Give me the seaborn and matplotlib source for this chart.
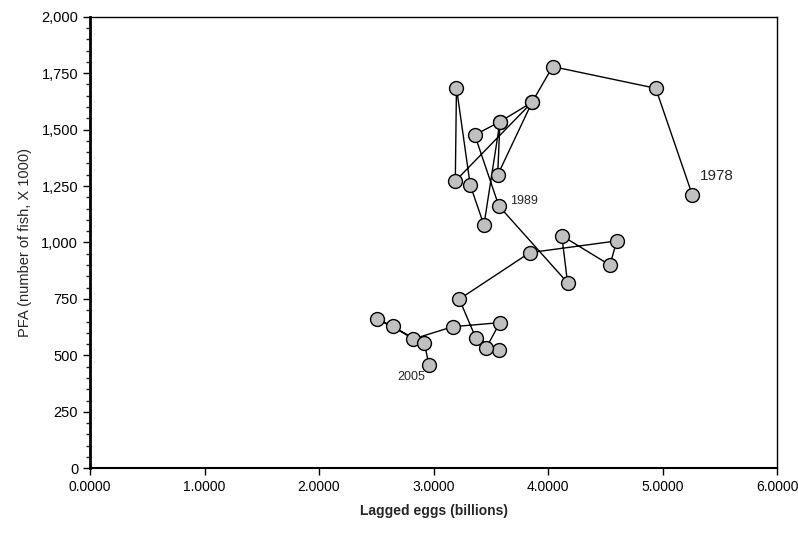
import numpy as np
import pandas as pd
import seaborn as sns
import matplotlib.pyplot as plt
from matplotlib.ticker import MultipleLocator, FuncFormatter

# points in the order the line visits them (1978 -> 2005)
lagged_eggs = [5.26, 4.94, 4.04, 3.86, 3.19, 3.20, 3.32, 3.44, 3.58, 3.56, 3.86, 3.58, 3.36, 3.57,
               4.17, 4.12, 4.54, 4.60, 3.84, 3.225, 3.37, 3.575, 3.46, 3.58, 3.167,
               2.82, 2.65, 2.51, 2.92, 2.96]
pfa = [1210, 1683, 1779, 1621, 1272, 1686, 1255, 1077, 1535, 1299, 1621, 1535, 1476, 1162,
       822, 1030, 900, 1007, 955, 749, 576, 523, 534, 645, 627,
       572, 628, 660, 553, 458]

# year labels: (text, x, y, size)
labels = [("1978", 5.33, 1295, 11), ("1989", 3.67, 1185, 9), ("2005", 2.68, 404, 9)]

df = pd.DataFrame({'eggs': lagged_eggs, 'pfa': pfa})

sns.set_style("white")
plt.rcParams['font.family'] = ['Liberation Sans', 'DejaVu Sans']

fig = plt.figure(figsize=(7.98, 5.35), dpi=100)
ax = fig.add_axes([0.1128, 0.1247, 0.861, 0.8441])

sns.lineplot(data=df, x='eggs', y='pfa', sort=False, estimator=None, ax=ax,
             color='black', lw=1, marker='o', markersize=10,
             markerfacecolor='#c0c0c0', markeredgecolor='black', markeredgewidth=1)

for txt, x, y, fs in labels:
    ax.text(x, y, txt, fontsize=fs, ha='left', va='center')

ax.set_xlim(0, 6)
ax.set_ylim(0, 2000)
ax.xaxis.set_major_locator(MultipleLocator(1))
ax.yaxis.set_major_locator(MultipleLocator(250))
ax.yaxis.set_minor_locator(MultipleLocator(50))
ax.xaxis.set_major_formatter(FuncFormatter(lambda v, p: f"{v:.4f}"))
ax.yaxis.set_major_formatter(FuncFormatter(lambda v, p: f"{v:,.0f}"))

for s in ax.spines.values():
    s.set_color('black')
    s.set_linewidth(1)
ax.spines['left'].set_linewidth(2)
ax.spines['bottom'].set_linewidth(1.5)

ax.tick_params(axis='both', which='major', direction='out', length=5, width=1,
               bottom=True, left=True, colors='black')
ax.tick_params(axis='x', labelsize=10)
ax.tick_params(axis='y', labelsize=10.5)
ax.tick_params(axis='y', which='minor', direction='out', length=3, width=1, left=True)

ax.set_xlabel("Lagged eggs (billions)", fontsize=10, fontweight='bold', labelpad=7)
ax.set_ylabel("PFA (number of fish, X 1000)", fontsize=10.5, labelpad=7)

fig.savefig('out.png', dpi=100)
